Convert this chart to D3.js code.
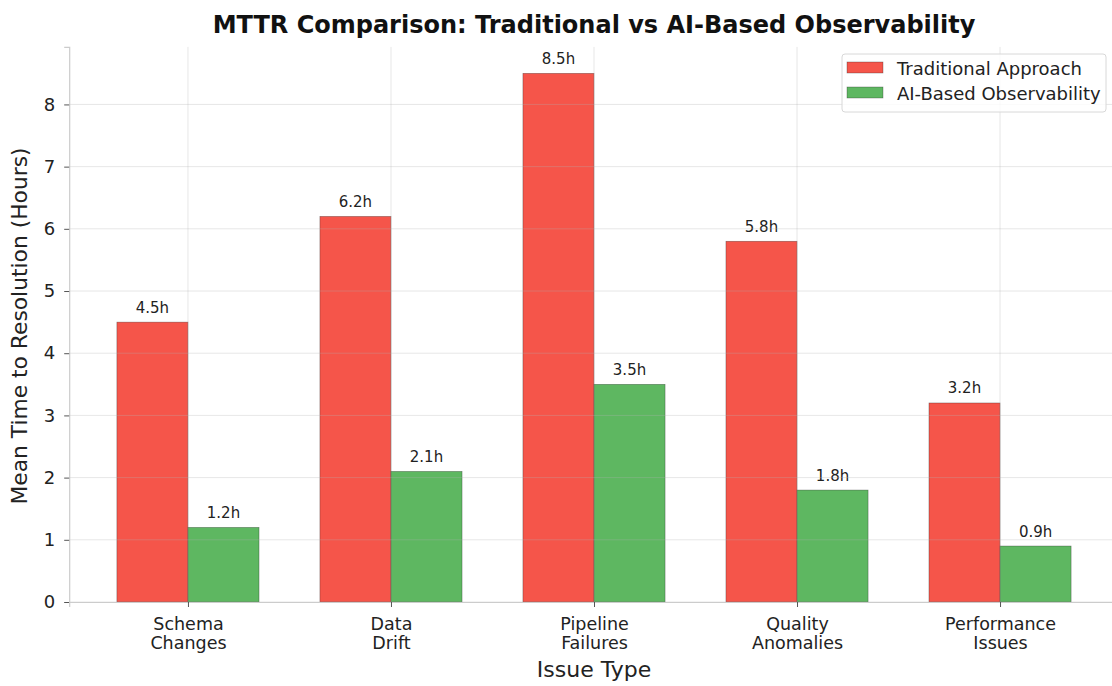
<!DOCTYPE html>
<html><head><meta charset="utf-8">
<script src="https://cdn.jsdelivr.net/npm/d3@7"></script>
<style>
html,body{margin:0;padding:0;background:#fff;}
svg text{font-family:"DejaVu Sans",sans-serif;}
</style></head>
<body><svg id="c" width="1112" height="686"></svg>
<script>
const categories = [["Schema","Changes"],["Data","Drift"],["Pipeline","Failures"],["Quality","Anomalies"],["Performance","Issues"]];
const traditional = [4.5, 6.2, 8.5, 5.8, 3.2];
const aiBased = [1.2, 2.1, 3.5, 1.8, 0.9];
const yTicks = [0,1,2,3,4,5,6,7,8];
const seriesNames = ["Traditional Approach","AI-Based Observability"];
const colors = ["#F44336","#4CAF50"];

const svg = d3.select("#c");
const W = 0.35;
const x = d3.scaleLinear().domain([-0.585, 4.585]).range([69.2, 1118.8]);
const y = d3.scaleLinear().domain([0, 8.925]).range([602, 46.9]);

// bars
const series = [traditional, aiBased];
series.forEach((vals, s) => {
  svg.append("g").selectAll("rect").data(vals).join("rect")
    .attr("x", (d,i) => x(i + (s===0 ? -W : 0)))
    .attr("width", x(W) - x(0))
    .attr("y", d => y(d))
    .attr("height", d => y(0) - y(d))
    .attr("fill", colors[s]).attr("fill-opacity", 0.9)
    .attr("stroke", "#222").attr("stroke-opacity", 0.5).attr("stroke-width", 0.6);
  svg.append("g").selectAll("text").data(vals).join("text")
    .attr("x", (d,i) => x(i + (s===0 ? -W/2 : W/2)))
    .attr("y", d => y(d) - 9.5)
    .attr("text-anchor", "middle").attr("font-size", 15).attr("fill", "#222")
    .text(d => d.toFixed(1) + "h");
});

// grid (drawn on top)
const grid = svg.append("g").attr("stroke", "#b0b0b0").attr("stroke-opacity", 0.35).attr("stroke-width", 0.9);
yTicks.forEach(t => grid.append("line").attr("x1", x.range()[0]).attr("x2", x.range()[1]).attr("y1", y(t)).attr("y2", y(t)));
categories.forEach((c,i) => grid.append("line").attr("x1", x(i)).attr("x2", x(i)).attr("y1", y.range()[1]).attr("y2", y(0)));

// y axis
const ya = svg.append("g").attr("transform", `translate(${x.range()[0]},0)`)
  .call(d3.axisLeft(y).tickValues(yTicks).tickSize(5).tickPadding(9).tickFormat(d3.format("d")));
ya.select(".domain").attr("stroke", "#cccccc").attr("stroke-width", 1.2);
ya.selectAll(".tick line").attr("stroke", "#555");
ya.selectAll(".tick text").attr("font-size", 18).attr("fill", "#222").attr("font-family", "DejaVu Sans");

// x axis
const xa = svg.append("g").attr("transform", `translate(0,${y(0)})`)
  .call(d3.axisBottom(x).tickValues(d3.range(categories.length)).tickSize(5).tickFormat(""));
xa.select(".domain").attr("stroke", "#cccccc").attr("stroke-width", 1.2);
xa.selectAll(".tick line").attr("stroke", "#555");
xa.selectAll(".tick").each(function(d){
  const t = d3.select(this).append("text").attr("fill", "#222").attr("font-size", 17.5)
    .attr("text-anchor", "middle").attr("font-family", "DejaVu Sans");
  categories[d].forEach((line, k) => t.append("tspan").attr("x", 0).attr("y", 28 + k*19).text(line));
});

// title and axis labels
svg.append("text").attr("x", 594).attr("y", 33).attr("text-anchor", "middle")
  .attr("font-size", 24).attr("font-weight", "bold").attr("fill", "#111")
  .text("MTTR Comparison: Traditional vs AI-Based Observability");
svg.append("text").attr("x", 594).attr("y", 677).attr("text-anchor", "middle")
  .attr("font-size", 22).attr("fill", "#222").text("Issue Type");
svg.append("text").attr("transform", "translate(27,326) rotate(-90)").attr("text-anchor", "middle")
  .attr("font-size", 21.8).attr("fill", "#222").text("Mean Time to Resolution (Hours)");

// legend
const lg = svg.append("g");
lg.append("rect").attr("x", 842).attr("y", 54).attr("width", 264).attr("height", 58).attr("rx", 3)
  .attr("fill", "#fff").attr("fill-opacity", 0.8).attr("stroke", "#d8d8d8");
seriesNames.forEach((n, k) => {
  lg.append("rect").attr("x", 847).attr("y", 62 + k*25).attr("width", 36).attr("height", 11)
    .attr("fill", colors[k]).attr("fill-opacity", 0.9).attr("stroke", "#222").attr("stroke-opacity", 0.5).attr("stroke-width", 0.6);
  lg.append("text").attr("x", 897).attr("y", 75 + k*25).attr("font-size", 18).attr("fill", "#222").text(n);
});
</script></body></html>
